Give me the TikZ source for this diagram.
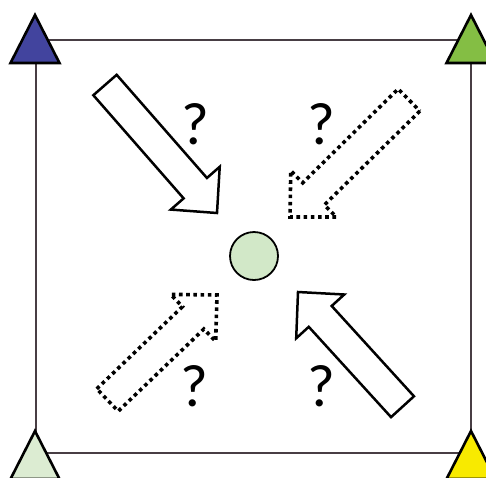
\documentclass[tikz,border=0pt]{standalone}
\usepackage{fontspec}
\setmainfont{Carlito}
\usepackage{xcolor}
\usetikzlibrary{calc}

\definecolor{cornerBlue}{RGB}{66,68,158}
\definecolor{cornerGreen}{RGB}{132,190,68}
\definecolor{cornerPale}{RGB}{220,236,210}
\definecolor{cornerYellow}{RGB}{248,234,0}
\definecolor{centreFill}{RGB}{210,232,200}
\definecolor{frameGray}{RGB}{72,62,68}

\begin{document}
\begin{tikzpicture}[
    x=1pt, y=-1pt,
    frame line/.style={frameGray, line width=2pt},
    corner/.style={draw=black, line width=2.6pt, line join=miter},
    solid arrow/.style={draw=black, fill=white, line width=2.5pt, line join=miter},
    dotted arrow/.style={draw=black, line width=3.6pt, dash pattern=on 3.6pt off 3.6pt},
    query/.style={font=\fontsize{60}{62}\selectfont, inner sep=0pt}
]
\useasboundingbox (0,0) rectangle (486,477);

% --- frame ---
\draw[frame line] (36,40) rectangle (471,453);

% --- corner triangles ---
\foreach \cx/\cy/\col in {35/15/cornerBlue, 471/15/cornerGreen,
                          35/431/cornerPale, 471/431/cornerYellow}{
    \filldraw[corner, fill=\col] (\cx,\cy) -- ++(24.5,48) -- ++(-49,0) -- cycle;
}

% --- centre ---
\node[circle, draw=black, line width=1.8pt, fill=centreFill,
      minimum size=48pt, inner sep=0pt] (centre) at (254,256) {};

% --- block arrows (tail / tip) ---
\foreach \tx/\ty/\px/\py/\sty in {105/85/217/213/solid arrow,
    409/100/290/217/dotted arrow, 107.5/400/217/295/dotted arrow,
    402.5/406.7/298/292/solid arrow}{
    \coordinate (tail) at (\tx,\ty);
    \coordinate (tip) at (\px,\py);
    \coordinate (base) at ($(tip)!33pt!(tail)$);
    \draw[\sty]
        ($(tail)!15.5pt!90:(tip)$) -- ($(base)!15.5pt!-90:(tail)$)
        -- ($(base)!32.5pt!-90:(tail)$) -- (tip)
        -- ($(base)!32.5pt!90:(tail)$) -- ($(base)!15.5pt!90:(tail)$)
        -- ($(tail)!15.5pt!-90:(tip)$) -- cycle;
}

% --- question marks ---
\node[query] (q1) at (195,124) {?};
\node[query] (q2) at (321,124) {?};
\node[query] (q3) at (194,386) {?};
\node[query] (q4) at (321,386) {?};

\end{tikzpicture}
\end{document}
